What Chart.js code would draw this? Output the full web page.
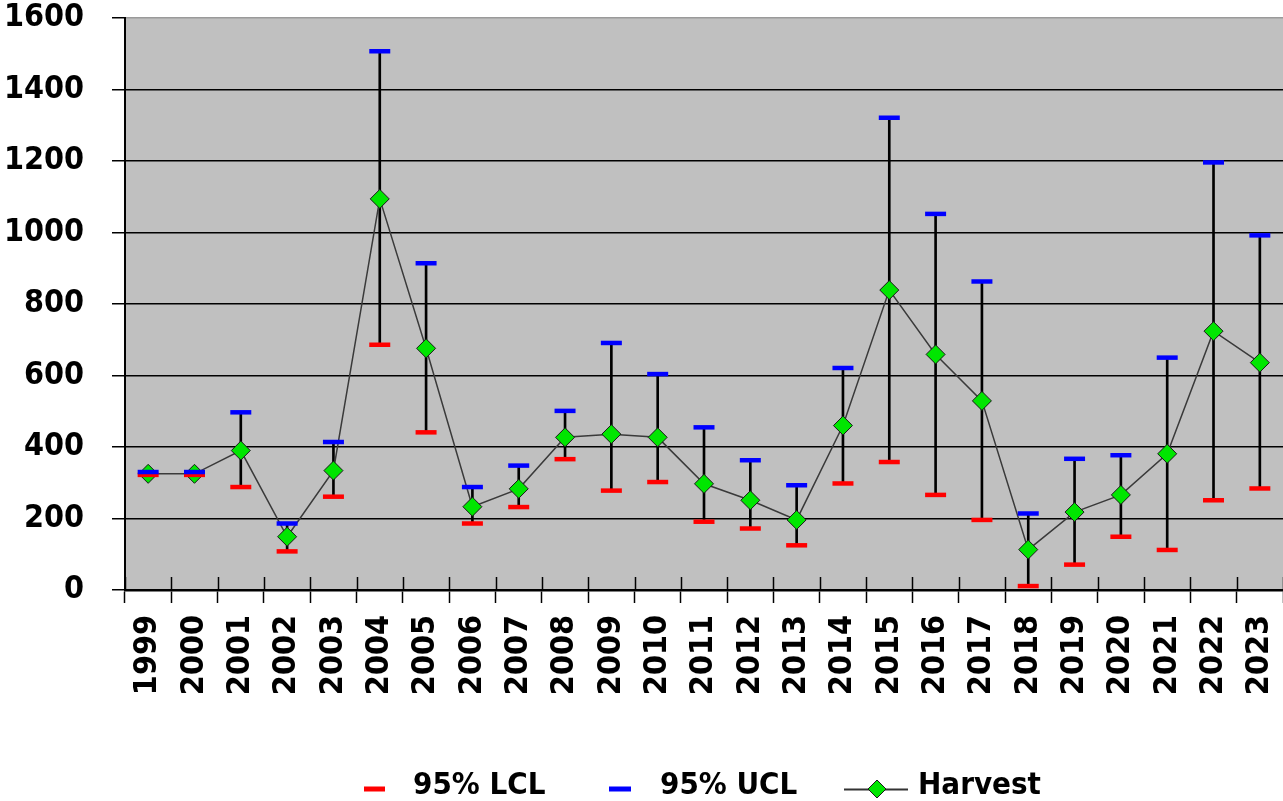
<!DOCTYPE html>
<html>
<head>
<meta charset="utf-8">
<script src="https://cdn.jsdelivr.net/npm/chart.js@4.4.1/dist/chart.umd.min.js"></script>
<style>
  html, body { margin: 0; padding: 0; background: #fff; overflow: hidden; }
  canvas { display: block; }
</style>
</head>
<body>
<canvas id="myChart" width="1283" height="801"></canvas>
<script>
const years = ['1999', '2000', '2001', '2002', '2003', '2004', '2005', '2006', '2007', '2008', '2009', '2010', '2011',
               '2012', '2013', '2014', '2015', '2016', '2017', '2018', '2019', '2020', '2021', '2022', '2023'];
const harvest = [325, 325, 390, 149, 334, 1094, 676, 233, 283, 427, 436, 427, 297,
                 251, 196, 460, 839, 659, 529, 113, 218, 266, 381, 724, 636];
const lcl = [322, 322, 288, 108, 261, 686, 441, 186, 232, 366, 278, 302, 191,
             172, 125, 298, 358, 266, 196, 11, 71, 149, 112, 251, 284];
const ucl = [330, 330, 497, 186, 414, 1507, 914, 288, 348, 501, 691, 604, 455,
             363, 293, 621, 1321, 1052, 863, 214, 367, 377, 650, 1196, 992];
const yTicks = [0, 200, 400, 600, 800, 1000, 1200, 1400, 1600];

const FONT = '"DejaVu Sans Condensed", "DejaVu Sans", sans-serif';

// grey plot area
const plotBackground = {
    id: 'plotBackground',
    beforeDraw(chart) {
        const { ctx, chartArea: a } = chart;
        ctx.save();
        ctx.fillStyle = '#c0c0c0';
        ctx.fillRect(a.left, a.top, a.right - a.left, a.bottom - a.top);
        ctx.restore();
    }
};

// excel style "cross" tick marks: the part above the x axis
const innerTicks = {
    id: 'innerTicks',
    beforeDatasetsDraw(chart) {
        const x = chart.scales.x, a = chart.chartArea, ctx = chart.ctx;
        ctx.save();
        ctx.strokeStyle = '#000';
        ctx.lineWidth = 1.5;
        for (let i = 0; i <= years.length; i++) {
            const px = Math.round(x.getPixelForValue(i - 0.5)) + 0.5;
            ctx.beginPath();
            ctx.moveTo(px, a.bottom - 13);
            ctx.lineTo(px, a.bottom);
            ctx.stroke();
        }
        ctx.restore();
    }
};

// legend drawn by hand so it sits where the excel one does
const bottomLegend = {
    id: 'bottomLegend',
    afterDraw(chart) {
        const ctx = chart.ctx;
        const ds = chart.data.datasets;
        const y = 789;
        ctx.save();
        ctx.font = 'bold 31px ' + FONT;
        ctx.fillStyle = '#000';
        ctx.textBaseline = 'middle';
        // LCL
        ctx.fillStyle = '#ff0000';
        ctx.fillRect(364, y - 2.5, 21, 5);
        ctx.fillStyle = '#000';
        ctx.fillText(ds[2].label, 413, y - 3);
        // UCL
        ctx.fillStyle = '#0000ff';
        ctx.fillRect(609, y - 2.5, 22, 5);
        ctx.fillStyle = '#000';
        ctx.fillText(ds[3].label, 660, y - 3);
        // Harvest
        ctx.strokeStyle = '#333';
        ctx.lineWidth = 2;
        ctx.beginPath();
        ctx.moveTo(844, y + 0.5);
        ctx.lineTo(908, y + 0.5);
        ctx.stroke();
        ctx.beginPath();
        ctx.moveTo(877, y - 9); ctx.lineTo(886, y); ctx.lineTo(877, y + 9); ctx.lineTo(868, y); ctx.closePath();
        ctx.fillStyle = '#00e600';
        ctx.fill();
        ctx.lineWidth = 1;
        ctx.strokeStyle = '#1a1a1a';
        ctx.stroke();
        ctx.fillStyle = '#000';
        ctx.fillText(ds[1].label, 918, y - 3);
        ctx.restore();
    }
};

const ctx = document.getElementById('myChart').getContext('2d');
const myChart = new Chart(ctx, {
    data: {
        labels: years,
        datasets: [{
            type: 'bar',
            label: 'range',
            data: lcl.map((v, i) => [v, ucl[i]]),
            backgroundColor: '#000',
            barThickness: 2,
            order: 4
        }, {
            type: 'line',
            label: 'Harvest',
            data: harvest,
            borderColor: '#3a3a3a',
            borderWidth: 1.5,
            pointStyle: 'rectRot',
            pointRadius: 9.5,
            pointBackgroundColor: '#00e600',
            pointBorderColor: '#1a1a1a',
            pointBorderWidth: 1,
            tension: 0,
            order: 3
        }, {
            type: 'line',
            label: '95% LCL',
            data: lcl,
            showLine: false,
            pointStyle: 'line',
            pointRadius: 10.5,
            pointBorderWidth: 4.5,
            pointBorderColor: '#ff0000',
            order: 2
        }, {
            type: 'line',
            label: '95% UCL',
            data: ucl,
            showLine: false,
            pointStyle: 'line',
            pointRadius: 10.5,
            pointBorderWidth: 4.5,
            pointBorderColor: '#0000ff',
            order: 1
        }]
    },
    options: {
        responsive: false,
        animation: false,
        layout: { autoPadding: false, padding: { top: 18, left: 0, right: 0, bottom: 0 } },
        plugins: {
            legend: { display: false },
            tooltip: { enabled: false }
        },
        scales: {
            x: {
                offset: true,
                grid: {
                    offset: true,
                    drawOnChartArea: false,
                    drawTicks: true,
                    tickLength: 13,
                    tickColor: '#000',
                    tickWidth: 1.5
                },
                border: { color: '#000', width: 2.5 },
                ticks: {
                    color: '#000',
                    font: { family: FONT, size: 32, weight: 'bold' },
                    maxRotation: 90,
                    minRotation: 90,
                    autoSkip: false,
                    padding: 12
                },
                afterFit(scale) {
                    scale.height = 211;
                    scale.paddingLeft = 0;
                    scale.paddingRight = 0;
                }
            },
            y: {
                min: 0,
                max: 1600,
                afterBuildTicks(scale) { scale.ticks = yTicks.map(v => ({ value: v })); },
                grid: {
                    color: c => (c.tick && c.tick.value === 1600) ? '#9a9a9a' : '#000',
                    lineWidth: 1.5,
                    tickLength: 13,
                    tickColor: '#000'
                },
                border: { color: '#000', width: 2 },
                ticks: {
                    color: '#000',
                    font: { family: FONT, size: 32, weight: 'bold' },
                    padding: 28,
                    callback: v => String(v)
                },
                afterFit(scale) {
                    scale.width = 125;
                    scale.paddingTop = 0;
                    scale.paddingBottom = 0;
                }
            }
        }
    },
    plugins: [plotBackground, innerTicks, bottomLegend]
});
</script>
</body>
</html>
